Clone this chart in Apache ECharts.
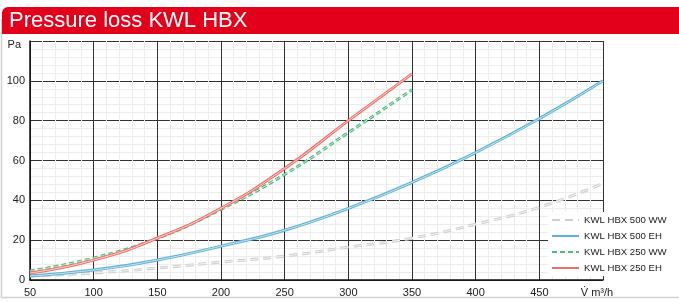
<!DOCTYPE html>
<html>
<head>
<meta charset="utf-8">
<script src="https://cdn.jsdelivr.net/npm/echarts@6/dist/echarts.min.js"></script>
<style>
  html, body { margin: 0; padding: 0; background: #fff; }
  #chart { width: 679px; height: 302px; }
</style>
</head>
<body>
<div id="chart"></div>
<script>
// volume flow m3/h
var flow = [50, 100, 150, 200, 250, 300, 350, 400, 450, 500]
var flow250 = [50, 100, 150, 200, 250, 300, 350]
// pressure loss Pa
var hbx500ww = [2, 3.5, 6, 9, 12, 16.5, 21, 28, 36.5, 48.5]
var hbx500eh = [2, 5, 10, 17, 25, 36, 49, 64, 81, 100]
var hbx250ww = [4.5, 11, 21, 35.5, 53, 74, 95.5]
var hbx250eh = [3.5, 10, 21, 36, 56, 80, 103.5]
var xTicks = [50, 100, 150, 200, 250, 300, 350, 400, 450]
var yTicks = [0, 20, 40, 60, 80, 100]

function pairs(xs, ys) {
  return xs.map(function (x, i) { return [x, ys[i]] })
}

// each curve is drawn twice: a wide coloured line and a light one on top
function curve(name, xs, ys, color, light, dash) {
  return [{
    name: name, type: 'line', data: pairs(xs, ys), smooth: true, symbol: 'none',
    lineStyle: { color: color, width: 3, type: dash || 'solid' },
    itemStyle: { color: color }
  }, {
    name: name + '_in', type: 'line', data: pairs(xs, ys), smooth: true, symbol: 'none',
    silent: true, lineStyle: { color: light, width: 1, type: dash || 'solid' }
  }]
}

var series = [].concat(
  curve('KWL HBX 500 WW', flow, hbx500ww, '#cfcfcf', '#f2f2f2', [8, 5]),
  curve('KWL HBX 500 EH', flow, hbx500eh, '#5fb2d3', '#c8e6f2'),
  curve('KWL HBX 250 WW', flow250, hbx250ww, '#4cbb7f', '#c6ead5', [5, 3]),
  curve('KWL HBX 250 EH', flow250, hbx250eh, '#ef6f66', '#fbd3cf')
)

var myChart = echarts.init(document.getElementById('chart'))
myChart.setOption({
  animation: false,
  textStyle: { fontFamily: 'Liberation Sans, Arial, sans-serif' },
  graphic: [
    { type: 'rect', shape: { x: 1.5, y: 20, width: 700, height: 277.5 }, style: { fill: 'none', stroke: '#d0d0d0', lineWidth: 1.5 }, z: 0 },
    { type: 'rect', shape: { x: 2, y: 7, width: 690, height: 27, r: [6, 0, 0, 0] }, style: { fill: '#e2001a' }, z: 1 },
    { type: 'text', left: 9, top: 10, style: { text: 'Pressure loss KWL HBX', fill: '#fff', font: '22px Liberation Sans, Arial, sans-serif' }, z: 2 }
  ],
  grid: { left: 30, right: 76, top: 41, bottom: 22 },
  legend: {
    orient: 'vertical', left: 548, top: 212, padding: [3, 20, 3, 3],
    backgroundColor: '#fff', itemWidth: 27, itemHeight: 10, itemGap: 6,
    itemStyle: { opacity: 0 },
    textStyle: { fontSize: 9.6, color: '#222' },
    data: ['KWL HBX 500 WW', 'KWL HBX 500 EH', 'KWL HBX 250 WW', 'KWL HBX 250 EH'],
    z: 10
  },
  xAxis: {
    type: 'value', min: 50, max: 500, interval: 50,
    axisLine: { lineStyle: { color: '#111', width: 1.5 } },
    axisTick: { show: false },
    axisLabel: {
      fontSize: 11, color: '#222', margin: 7, showMaxLabel: true,
      formatter: function (v) { return v === 500 ? '{u|V\u0307 m\u00b3/h}' : (xTicks.indexOf(v) >= 0 ? v : '') },
      rich: { u: { fontSize: 11, color: '#222', padding: [0, 12, 0, 0] } }
    },
    splitLine: { lineStyle: { color: '#333', width: 1 } },
    minorTick: { show: false, splitNumber: 5 },
    minorSplitLine: { show: true, lineStyle: { color: '#ececec', width: 1 } }
  },
  yAxis: {
    type: 'value', min: 0, max: 120, interval: 20,
    axisLine: { show: true, lineStyle: { color: '#111', width: 1.5 } },
    axisTick: { show: false },
    axisLabel: {
      fontSize: 11, color: '#222', margin: 5,
      formatter: function (v) { return v === 120 ? '{p|Pa}' : (yTicks.indexOf(v) >= 0 ? v : '') },
      rich: { p: { fontSize: 11, color: '#222', padding: [8, 4, 0, 0] } }
    },
    splitLine: { lineStyle: { color: '#333', width: 1 } },
    minorTick: { show: false, splitNumber: 5 },
    minorSplitLine: { show: true, lineStyle: { color: '#ececec', width: 1 } }
  },
  series: series
})
</script>
</body>
</html>
